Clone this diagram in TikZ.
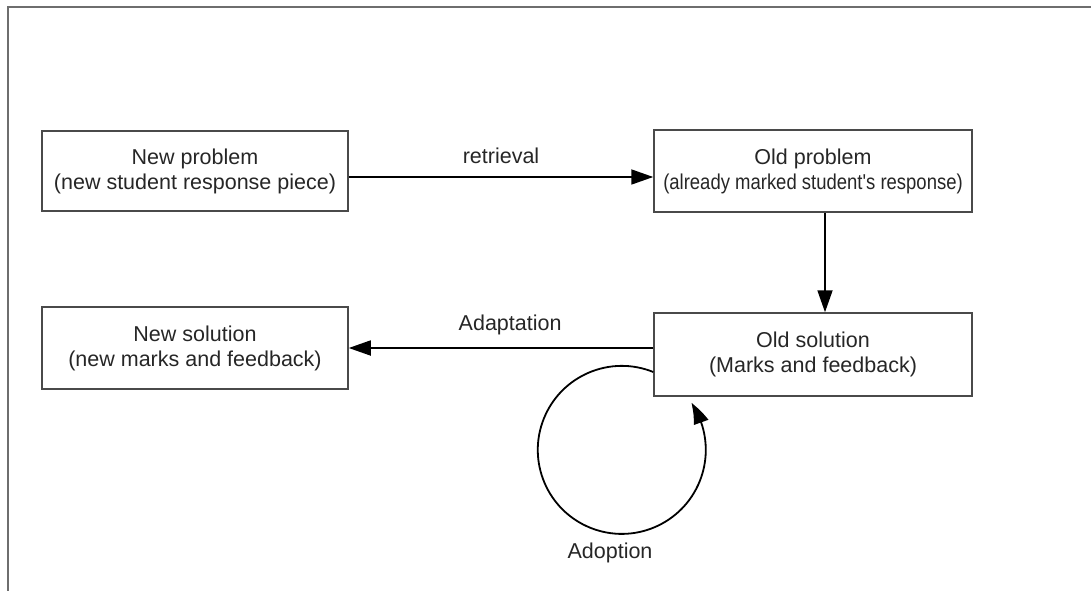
\documentclass[tikz,border=0pt]{standalone}
\usepackage{fontspec}
\setmainfont{Liberation Sans}
\newfontfamily\narrowsans[FakeStretch=0.86]{Liberation Sans}
\usetikzlibrary{arrows.meta,bending}
\definecolor{edgegray}{HTML}{4A4A4A}
\definecolor{framegray}{HTML}{6E6E6E}
\definecolor{txtgray}{HTML}{262626}
\begin{document}
\begin{tikzpicture}[x=1pt, y=1pt,
  box/.style={draw=edgegray, line width=1.5pt, align=center, inner sep=0pt,
    text=txtgray, font=\fontsize{21.5}{25}\selectfont},
  flow/.style={draw=black, line width=1.8pt, -{Triangle[length=22pt, width=15pt, bend]}},
  lbl/.style={text=txtgray, font=\fontsize{21.5}{25}\selectfont, inner sep=0pt}]
  \useasboundingbox (0, 0) rectangle (1091, 590);
  \draw [framegray, line width=1.6pt] (8, -2) -- (8, 583) -- (1093, 583);
  \node [box, minimum width=306pt, minimum height=80pt] (np) at (195, 419) {New problem\\(new student response piece)};
  \node [box, minimum width=318pt, minimum height=82pt] (op) at (813, 419) {Old problem\\{\narrowsans(already marked student's response)}};
  \node [box, minimum width=318pt, minimum height=83pt] (os) at (813, 235.5) {Old solution\\(Marks and feedback)};
  \node [box, minimum width=306pt, minimum height=82pt] (ns) at (195, 242) {New solution\\(new marks and feedback)};
  \draw [flow] ([yshift=-6pt]np.east) -- ([yshift=-6pt]np.east -| op.west) node [lbl, midway, above=12pt] {retrieval};
  \draw [flow] ([xshift=12pt]op.south) -- ([xshift=12pt]op.south |- os.north);
  \draw [flow] (ns.east -| os.west) -- (ns.east) node [lbl, pos=0.47, above=12pt] {Adaptation};
  \draw [flow] ([yshift=-17.5pt]os.west) arc [start angle=68, end angle=394, radius=84];
  \node [lbl, anchor=base] (adopt) at (610, 32) {Adoption};
\end{tikzpicture}
\end{document}
